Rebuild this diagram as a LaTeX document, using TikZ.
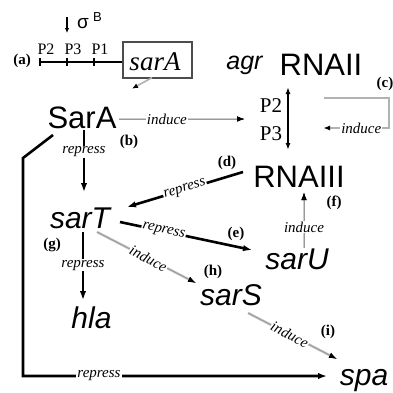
\documentclass[tikz,border=0pt]{standalone}
\usepackage{fontspec}
\setmainfont{Liberation Serif}
\newfontfamily\arial{Liberation Sans}
\usetikzlibrary{arrows.meta,calc}
\begin{document}
\begin{tikzpicture}[x=1pt,y=-1pt,
 big/.style={font=\arial\fontsize{31}{31}\selectfont, inner sep=0pt, anchor=base},
 bigit/.style={font=\arial\itshape\fontsize{30}{30}\selectfont, inner sep=0pt, anchor=base},
 lab/.style={font=\bfseries\fontsize{15}{15}\selectfont, inner sep=0pt},
 plab/.style={font=\fontsize{21}{21}\selectfont, inner sep=0pt, anchor=base},
 elab/.style={font=\itshape\fontsize{15}{15}\selectfont, fill=white, inner sep=1pt},
 slab/.style={elab, sloped},
 rep/.style={line width=2.6pt, -{Latex[length=9pt,width=6.5pt]}},
 ind/.style={line width=1pt, draw=gray!80, preaction={draw=gray!40, line width=2.6pt, -{Latex[length=8pt,width=5.5pt,color=black]}}, -{Latex[length=8pt,width=5.5pt,color=black]}},
]
\useasboundingbox (0,0) rectangle (393,392);

% main text nodes
\node[big] (SarA) at (82,128) {SarA};
\node[font=\arial\itshape\fontsize{25}{25}\selectfont, inner sep=0pt, anchor=base] (agr) at (244.5,69) {agr};
\node[big] (RNAII) at (321,75) {RNAII};
\node[big] (RNAIII) at (299,187) {RNAIII};
\node[bigit] (sarT) at (80,228) {sarT};
\node[bigit] (sarU) at (297,269) {sarU};
\node[bigit] (sarS) at (231,305) {sarS};
\node[bigit] (hla) at (91.5,328) {hla};
\node[bigit] (spa) at (364,385) {spa};
\node[plab] (P2r) at (271,112) {P2};
\node[plab] (P3r) at (271,140) {P3};

% sarA gene
\node[draw=black!70, line width=1.3pt, minimum width=69pt, minimum height=36pt, inner sep=0pt] (sarAbox) at (157.5,60) {};
\node[font=\itshape\fontsize{27}{27}\selectfont, inner sep=0pt, anchor=base] (sarAtxt) at (155,70) {sarA};
\node[font=\fontsize{16}{16}\selectfont, inner sep=0pt, anchor=base] (P2l) at (46,54) {P2};
\node[font=\fontsize{16}{16}\selectfont, inner sep=0pt, anchor=base] (P3l) at (73,54) {P3};
\node[font=\fontsize{16}{16}\selectfont, inner sep=0pt, anchor=base] (P1l) at (100,54) {P1};
\coordinate (prom) at (40,62);
\draw[line width=1.6pt] (prom) -- (prom -| sarAbox.west);
\foreach \x in {0,27,54} \draw[line width=1.4pt] ($(prom)+(\x,-4)$) -- ($(prom)+(\x,4)$);
\node[font=\arial\fontsize{19}{19}\selectfont, inner sep=0pt, anchor=base] (sigma) at (83,28) {σ};
\node[font=\arial\fontsize{13}{13}\selectfont, inner sep=0pt, anchor=base] (sigB) at (97.5,21) {B};
\draw[line width=1.5pt, -{Latex[length=5pt,width=4.5pt]}] ($(sigma.base)+(-16,-11)$) -- ($(sigma.base)+(-16,5)$);
\draw[line width=1.6pt, gray!60, -{Latex[length=6pt,width=5pt,color=black]}] ($(sarAbox.south)+(-5.5,-1)$) -- ($(sarAbox.south)+(-25.5,10)$);

% labels
\node[lab] (la) at (22,61) {(a)};
\node[lab] (lb) at (129,142) {(b)};
\node[lab] (lc) at (385,84) {(c)};
\node[lab] (ld) at (227,163) {(d)};
\node[lab] (le) at (236,234) {(e)};
\node[lab] (lf) at (334,203) {(f)};
\node[lab] (lg) at (52,245) {(g)};
\node[lab] (lh) at (213,272) {(h)};
\node[lab] (li) at (328,332) {(i)};

% connectors
\draw[ind] ($(SarA.base)+(37,-9)$) -- ($(P2r.base)+(-26,7)$) node[elab, pos=0.38] {induce};
\draw[line width=2pt, {Latex[length=7pt,width=5pt]}-{Latex[length=7pt,width=5pt]}] ($(RNAII.base)+(-33,12)$) -- ($(RNAIII.base)+(-11,-37)$);
\draw[line width=1.5pt, draw=gray!60, -{Latex[length=7pt,width=5pt,color=black]}] ($(RNAII.base)+(3,23)$) -- (389,98) -- (389,128) -- ($(P3r.base)+(52,-12)$) node[elab, pos=0.42] {induce};
\draw[rep] ($(SarA.base)+(2,2)$) -- ($(sarT.base)+(4,-36)$) node[elab, pos=0.35] {repress};
\draw[rep] ($(RNAIII.base)+(-56,-15)$) -- ($(sarT.base)+(47,-21)$) node[slab, pos=0.5] {repress};
\draw[rep] ($(sarT.base)+(40,-6)$) -- ($(sarU.base)+(-45,-19)$) node[slab, pos=0.33] {repress};
\draw[ind] ($(sarU.base)+(7,-21)$) -- ($(RNAIII.base)+(5,5)$) node[elab, pos=0.375] {induce};
\draw[ind] ($(sarT.base)+(17,4)$) -- ($(sarS.base)+(-35,-22)$) node[slab, pos=0.52] {induce};
\draw[rep] ($(sarT.base)+(3,4)$) -- ($(hla.base)+(-8.5,-28)$) node[elab, pos=0.49] {repress};
\draw[ind] ($(sarS.base)+(17,8)$) -- ($(spa.base)+(-27,-26)$) node[slab, pos=0.47] {induce};
\draw[rep, line join=miter] ($(SarA.base)+(-29,7)$) -- ++(-30,23) |- ($(spa.base)+(-37,-9)$) node[elab, pos=0.625] {repress};
\end{tikzpicture}
\end{document}
